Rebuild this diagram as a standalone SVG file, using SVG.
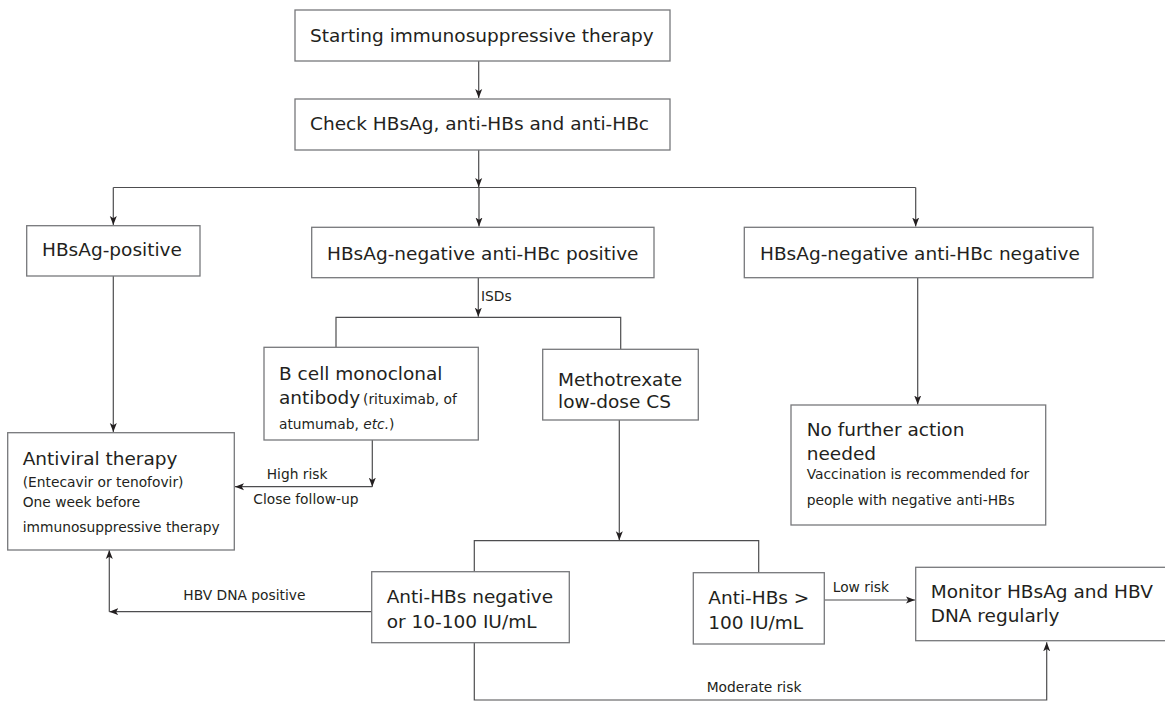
<svg xmlns="http://www.w3.org/2000/svg" width="1165" height="702" viewBox="0 0 1165 702">
<style>
.box{fill:#fff;stroke:#77787b;stroke-width:1.3}
.ln{fill:none;stroke:#4d4d4f;stroke-width:1.2}
.big{font-family:"DejaVu Sans","Liberation Sans",sans-serif;font-size:18.5px;fill:#231f20}
.sm{font-family:"DejaVu Sans","Liberation Sans",sans-serif;font-size:13.8px;fill:#231f20}
</style>
<defs>
<marker id="ah" markerUnits="userSpaceOnUse" markerWidth="10" markerHeight="8" refX="9" refY="4" orient="auto">
<path d="M0,0.5 L9,4 L0,7.5 L2.2,4 z" fill="#231f20"/>
</marker>
</defs>
<rect width="1165" height="702" fill="#fff"/>
<g id="connectors">
<line class="ln" x1="478.7" y1="61" x2="478.7" y2="98" marker-end="url(#ah)"/>
<line class="ln" x1="478.7" y1="150" x2="478.7" y2="187" marker-end="url(#ah)"/>
<line class="ln" x1="113.3" y1="187.5" x2="915.7" y2="187.5"/>
<line class="ln" x1="113.3" y1="187.5" x2="113.3" y2="225" marker-end="url(#ah)"/>
<line class="ln" x1="479" y1="187.5" x2="479" y2="226.5" marker-end="url(#ah)"/>
<line class="ln" x1="915.7" y1="187.5" x2="915.7" y2="226.5" marker-end="url(#ah)"/>
<line class="ln" x1="478.3" y1="277.7" x2="478.3" y2="316.7" marker-end="url(#ah)"/>
<polyline class="ln" points="336,347.3 336,317.3 620.7,317.3 620.7,349.3"/>
<line class="ln" x1="113.3" y1="276" x2="113.3" y2="432" marker-end="url(#ah)"/>
<line class="ln" x1="372.3" y1="440" x2="372.3" y2="486.7" marker-end="url(#ah)"/>
<line class="ln" x1="372.3" y1="486.7" x2="235" y2="486.7" marker-end="url(#ah)"/>
<line class="ln" x1="917.7" y1="277.7" x2="917.7" y2="404.5" marker-end="url(#ah)"/>
<line class="ln" x1="619.3" y1="420" x2="619.3" y2="540.2" marker-end="url(#ah)"/>
<polyline class="ln" points="474.3,571.7 474.3,540.7 758.7,540.7 758.7,572.7"/>
<line class="ln" x1="371.7" y1="611.7" x2="109.3" y2="611.7" marker-end="url(#ah)"/>
<line class="ln" x1="109.3" y1="611.7" x2="109.3" y2="550" marker-end="url(#ah)"/>
<line class="ln" x1="824.3" y1="600" x2="915" y2="600" marker-end="url(#ah)"/>
<polyline class="ln" points="474.3,642.7 474.3,700 1046.7,700 1046.7,642.3" marker-end="url(#ah)"/>
<text class="sm" x="481" y="300.5">ISDs</text>
<text class="sm" x="266.7" y="479">High risk</text>
<text class="sm" x="253.3" y="504">Close follow-up</text>
<text class="sm" x="183.3" y="600">HBV DNA positive</text>
<text class="sm" x="832.7" y="592.3">Low risk</text>
<text class="sm" x="706.7" y="691.7">Moderate risk</text>
</g>
<g id="start">
<rect class="box" x="295" y="10" width="375" height="51"/>
<text class="big" x="310" y="42">Starting immunosuppressive therapy</text>
</g>
<g id="check">
<rect class="box" x="295" y="99" width="375" height="51"/>
<text class="big" x="310" y="130">Check HBsAg, anti-HBs and anti-HBc</text>
</g>
<g id="hbsag-pos">
<rect class="box" x="26.7" y="225.7" width="173.3" height="50.3"/>
<text class="big" x="42" y="256">HBsAg-positive</text>
</g>
<g id="neg-pos">
<rect class="box" x="311.7" y="227.3" width="342.3" height="50.4"/>
<text class="big" x="327" y="260">HBsAg-negative anti-HBc positive</text>
</g>
<g id="neg-neg">
<rect class="box" x="744.3" y="227.3" width="348.7" height="50.4"/>
<text class="big" x="760" y="260">HBsAg-negative anti-HBc negative</text>
</g>
<g id="bcell">
<rect class="box" x="264" y="347.3" width="214.3" height="92.7"/>
<text class="big" x="279" y="380">B cell monoclonal</text>
<text class="big" x="279" y="404">antibody<tspan class="sm" x="363">(rituximab, of</tspan></text>
<text class="sm" x="279" y="429">atumumab, <tspan font-style="italic">etc.</tspan>)</text>
</g>
<g id="methotrexate">
<rect class="box" x="542.7" y="349.3" width="155.6" height="70.7"/>
<text class="big" x="558" y="386">Methotrexate</text>
<text class="big" x="558" y="407.5">low-dose CS</text>
</g>
<g id="no-action">
<rect class="box" x="791" y="405" width="254.7" height="120"/>
<text class="big" x="806.7" y="435.7">No further action</text>
<text class="big" x="806.7" y="460">needed</text>
<text class="sm" x="806.7" y="479.3">Vaccination is recommended for</text>
<text class="sm" x="806.7" y="505">people with negative anti-HBs</text>
</g>
<g id="antiviral">
<rect class="box" x="7.7" y="432.7" width="226.6" height="117.3"/>
<text class="big" x="22.7" y="465">Antiviral therapy</text>
<text class="sm" x="22.7" y="486.7">(Entecavir or tenofovir)</text>
<text class="sm" x="22.7" y="506.7">One week before</text>
<text class="sm" x="22.7" y="531.7">immunosuppressive therapy</text>
</g>
<g id="anti-neg">
<rect class="box" x="371.7" y="571.7" width="197.6" height="71"/>
<text class="big" x="386.7" y="603.3">Anti-HBs negative</text>
<text class="big" x="386.7" y="627.7">or 10-100 IU/mL</text>
</g>
<g id="anti-high">
<rect class="box" x="693.3" y="572.7" width="131" height="71.3"/>
<text class="big" x="708.3" y="604">Anti-HBs &gt;</text>
<text class="big" x="708.3" y="629.3">100 IU/mL</text>
</g>
<g id="monitor">
<rect class="box" x="915.7" y="567.3" width="252" height="73.4"/>
<text class="big" x="930.7" y="598.3">Monitor HBsAg and HBV</text>
<text class="big" x="930.7" y="621.7">DNA regularly</text>
</g>
</svg>
